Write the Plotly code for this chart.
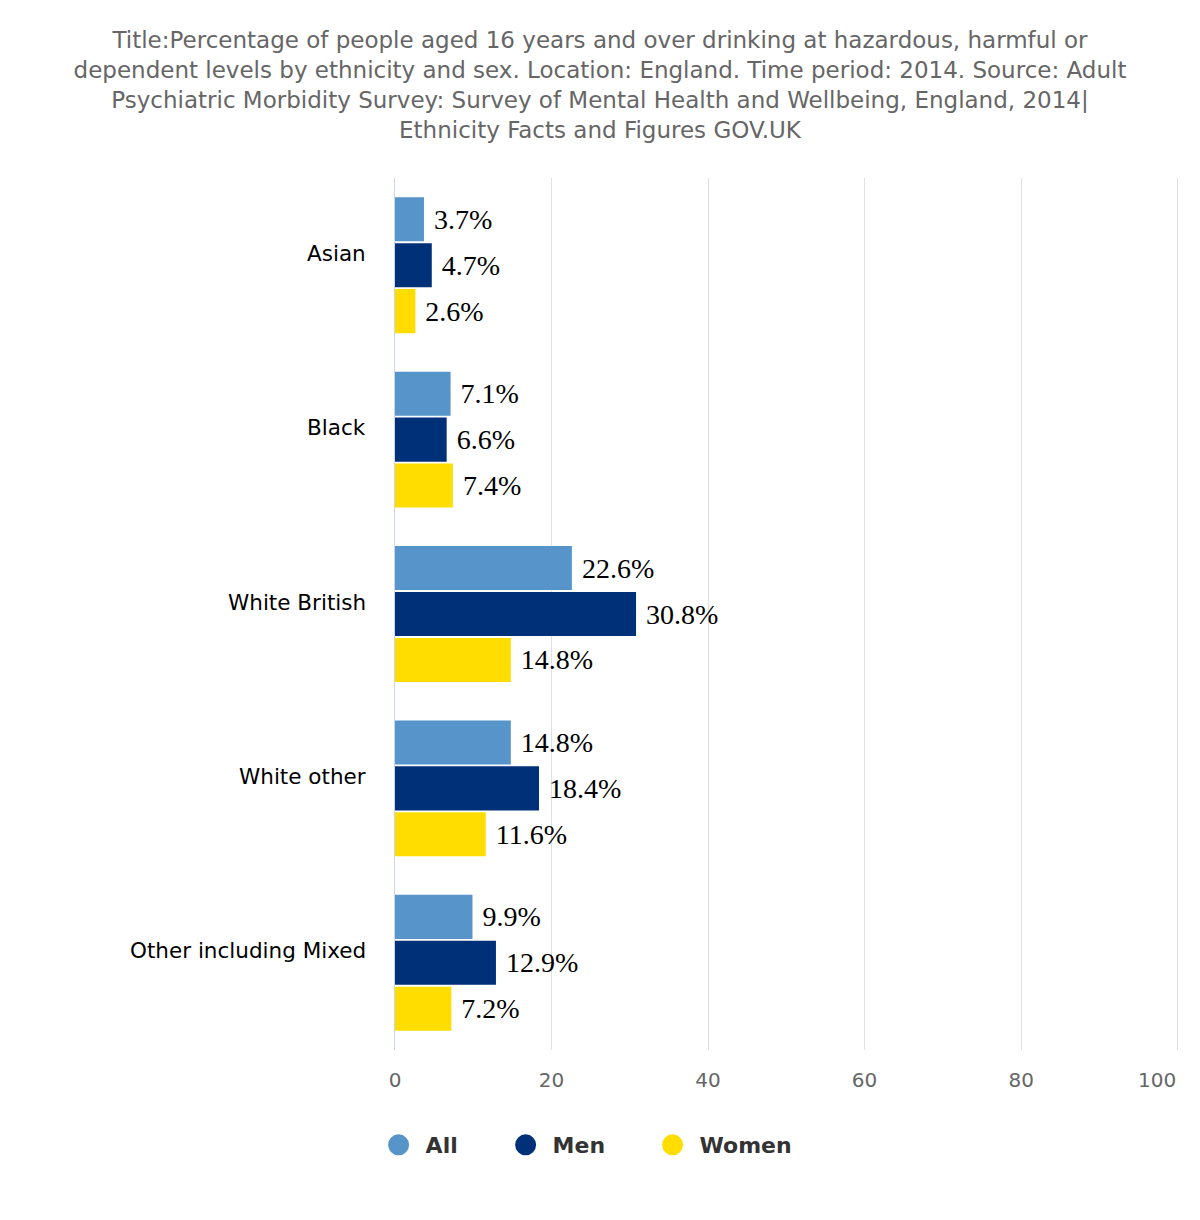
import plotly.graph_objects as go

categories = ["Asian", "Black", "White British", "White other", "Other including Mixed"]
all_vals = [3.7, 7.1, 22.6, 14.8, 9.9]
men_vals = [4.7, 6.6, 30.8, 18.4, 12.9]
women_vals = [2.6, 7.4, 14.8, 11.6, 7.2]
series_names = ["All", "Men", "Women"]
series_colors = ["#5694ca", "#003078", "#ffdd00"]
x_ticks = [0, 20, 40, 60, 80, 100]
x_tick_labels = ["0", "20", "40", "60", "80", "100"]

title_text = ("Title:Percentage of people aged 16 years and over drinking at hazardous, harmful or<br>"
              "dependent levels by ethnicity and sex. Location: England. Time period: 2014. Source: Adult<br>"
              "Psychiatric Morbidity Survey: Survey of Mental Health and Wellbeing, England, 2014|<br>"
              "Ethnicity Facts and Figures GOV.UK")

FONT = "DejaVu Sans"
legend_ids = ["legend", "legend2", "legend3"]
legend_x = [-0.0298, 0.1320, 0.3192]

fig = go.Figure()
for name, vals, col, lid in zip(series_names, [all_vals, men_vals, women_vals], series_colors, legend_ids):
    fig.add_trace(go.Bar(
        y=categories, x=vals, orientation="h", name=name,
        marker=dict(color=col, line=dict(width=0)),
        texttemplate="\u00a0%{x:.1f}%", textposition="outside",
        textfont=dict(family="Liberation Serif", size=28, color="#000000"),
        cliponaxis=False, showlegend=False,
    ))
    fig.add_trace(go.Scatter(
        x=[None], y=[None], mode="markers", name=name, legend=lid,
        marker=dict(symbol="circle", size=16, color=col, line=dict(color=col, width=8)),
        showlegend=True,
    ))

for c in categories:
    fig.add_annotation(x=0, xref="paper", y=c, yref="y", text=c, showarrow=False,
                       xanchor="right", yanchor="middle", xshift=-27, yshift=12,
                       font=dict(family=FONT, size=21.5, color="#000000"))

# last x tick label drawn right-aligned to its gridline (as in the reference)
fig.add_annotation(x=x_ticks[-1], xref="x", y=0, yref="paper", text=x_tick_labels[-1],
                   showarrow=False, xanchor="right", yanchor="middle", yshift=-30,
                   font=dict(family=FONT, size=20, color="#666666"))

legend_common = dict(orientation="h", xanchor="left", y=-0.109, yanchor="middle",
                     font=dict(family=FONT, size=22, color="#333333", weight="bold"),
                     itemwidth=44, bgcolor="rgba(0,0,0,0)")

fig.update_layout(
    width=1200, height=1220,
    margin=dict(l=395, r=20, t=178, b=170, autoexpand=False),
    paper_bgcolor="white", plot_bgcolor="white",
    title=dict(text=title_text, x=0.5, xanchor="center", y=1 - 48 / 1220, yanchor="top",
               font=dict(family=FONT, size=23, color="#666666")),
    barmode="group", bargap=0.21, bargroupgap=0.04,
    legend=dict(x=legend_x[0], **legend_common),
    legend2=dict(x=legend_x[1], **legend_common),
    legend3=dict(x=legend_x[2], **legend_common),
    xaxis=dict(range=[0, 100.3], tickvals=x_ticks, ticktext=x_tick_labels[:-1] + [""],
               showgrid=True, gridcolor="#e0e0e0", gridwidth=1,
               zeroline=False, showline=False, ticks="", automargin=False,
               ticklabelstandoff=16,
               tickfont=dict(family=FONT, size=20, color="#666666")),
    yaxis=dict(categoryorder="array", categoryarray=categories, autorange="reversed",
               showticklabels=False, showgrid=False, zeroline=False, automargin=False,
               showline=True, linecolor="#ccd6eb", linewidth=1, ticks=""),
)

fig.write_html("out.html")
